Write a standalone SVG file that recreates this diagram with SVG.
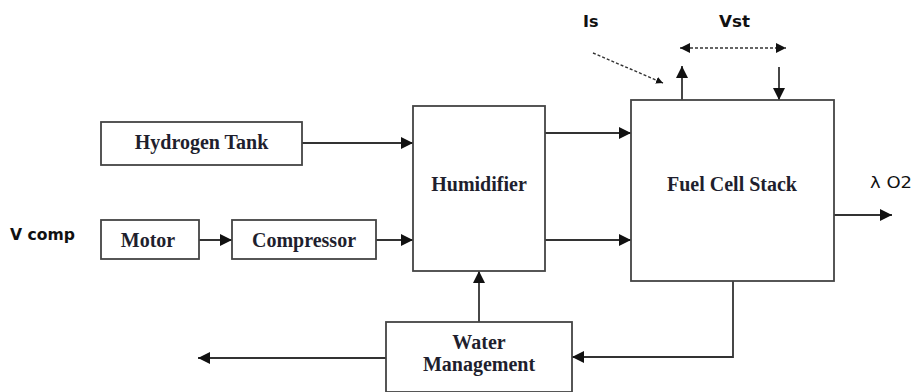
<svg xmlns="http://www.w3.org/2000/svg" width="917" height="392" viewBox="0 0 917 392">
<defs>
<style>
.box{fill:#fff;stroke:#444;stroke-width:1.8}
.lbl{font-family:"Liberation Serif","Times New Roman",serif;font-weight:bold;font-size:20px;fill:#1f1f2e;text-anchor:middle}
.sig{font-family:"DejaVu Sans",Verdana,sans-serif;font-weight:bold;font-size:15px;fill:#111}
.ln{fill:none;stroke:#333;stroke-width:1.8}
.dash{fill:none;stroke:#333;stroke-width:1.4;stroke-dasharray:3,2}
</style>
<marker id="ah" viewBox="0 0 10 10" refX="10" refY="5" markerWidth="7" markerHeight="7" markerUnits="userSpaceOnUse" orient="auto"><path d="M0,0 L10,5 L0,10 z" fill="#111"/></marker>
<marker id="a" viewBox="0 0 10 10" refX="10" refY="5" markerWidth="12" markerHeight="12" markerUnits="userSpaceOnUse" orient="auto-start-reverse"><path d="M0,0 L10,5 L0,10 z" fill="#111"/></marker>
<marker id="as" viewBox="0 0 10 10" refX="10" refY="5" markerWidth="10" markerHeight="10" markerUnits="userSpaceOnUse" orient="auto-start-reverse"><path d="M0,0 L10,5 L0,10 z" fill="#111"/></marker>
</defs>
<rect width="917" height="392" fill="#fff"/>
<g id="connectors">
<line class="ln" x1="302" y1="143" x2="413" y2="143" marker-end="url(#a)"/>
<line class="ln" x1="199" y1="240" x2="232" y2="240" marker-end="url(#a)"/>
<line class="ln" x1="376" y1="240" x2="413" y2="240" marker-end="url(#a)"/>
<line class="ln" x1="545" y1="133" x2="631" y2="133" marker-end="url(#a)"/>
<line class="ln" x1="545" y1="240" x2="631" y2="240" marker-end="url(#a)"/>
<line class="ln" x1="834" y1="215" x2="892" y2="215" marker-end="url(#a)"/>
<line class="ln" x1="479" y1="322" x2="479" y2="271" marker-end="url(#a)"/>
<line class="ln" x1="386" y1="358" x2="198" y2="358" marker-end="url(#a)"/>
<polyline class="ln" points="733,281 733,357 572,357" marker-end="url(#a)"/>
<line class="ln" x1="682" y1="100" x2="682" y2="66" marker-end="url(#a)"/>
<line class="ln" x1="779" y1="67" x2="779" y2="100" marker-end="url(#a)"/>
<line class="dash" x1="680" y1="48" x2="786" y2="48" marker-start="url(#as)" marker-end="url(#as)"/>
<line class="dash" x1="593" y1="53" x2="663" y2="83" marker-end="url(#ah)"/>
</g>
<g id="hydrogen-tank"><rect class="box" x="101" y="122" width="201" height="43"/><text class="lbl" x="201.5" y="149">Hydrogen Tank</text></g>
<g id="motor"><rect class="box" x="101" y="220" width="98" height="39"/><text class="lbl" x="148" y="247">Motor</text></g>
<g id="compressor"><rect class="box" x="232" y="220" width="144" height="39"/><text class="lbl" x="304" y="247">Compressor</text></g>
<g id="humidifier"><rect class="box" x="413" y="106" width="132" height="165"/><text class="lbl" x="479" y="191">Humidifier</text></g>
<g id="fuel-cell-stack"><rect class="box" x="631" y="100" width="203" height="181"/><text class="lbl" x="732" y="191">Fuel Cell Stack</text></g>
<g id="water-management"><rect class="box" x="386" y="322" width="186" height="70"/><text class="lbl" x="479" y="349">Water</text><text class="lbl" x="479" y="371">Management</text></g>
<g id="labels">
<text class="sig" x="10" y="240" textLength="65" lengthAdjust="spacingAndGlyphs">V comp</text>
<text class="sig" x="870" y="188" textLength="42" lengthAdjust="spacingAndGlyphs" style="font-weight:normal;font-size:16px">λ O2</text>
<text class="sig" x="583" y="27" style="font-size:16px">Is</text>
<text class="sig" x="719" y="27" textLength="31" lengthAdjust="spacingAndGlyphs" style="font-size:16px">Vst</text>
</g>
</svg>
